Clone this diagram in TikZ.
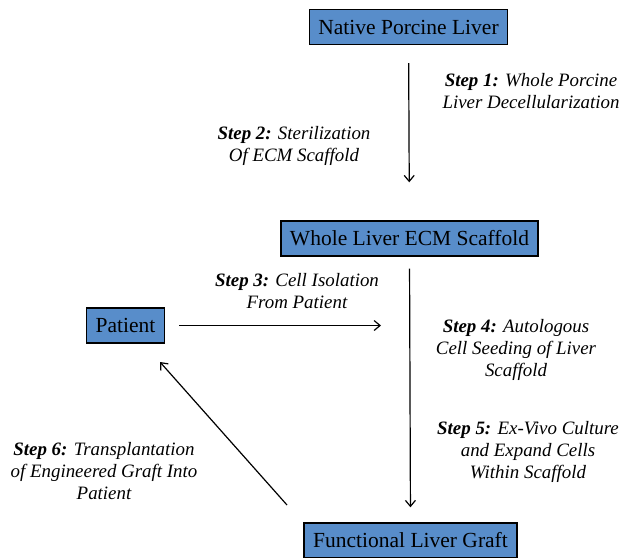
\documentclass[tikz,border=0pt]{standalone}
\usepackage{fontspec}
\setmainfont{Liberation Serif}
\usetikzlibrary{arrows.meta}
\definecolor{boxblue}{RGB}{88,141,202}
\tikzset{
  /tikz/.cd,
  stage/.style={draw=black,line width=1.4pt,fill=boxblue,font=\fontsize{21.5}{24}\selectfont,minimum height=35pt,inner xsep=9pt}
}

\begin{document}
\begin{tikzpicture}[x=1pt,y=-1pt,
                    flow/.style={-{Straight Barb[length=6pt,width=10pt,line width=1.2pt]},line width=1.2pt},
                    steplabel/.style={align=center,font=\fontsize{18.9}{22}\selectfont\itshape}]
      \useasboundingbox (0,0) rectangle (626,557);

      \node[stage] (native) at (408.5,27) {Native Porcine Liver};
      \node[stage] (scaffold) at (409.5,238.5) {Whole Liver ECM Scaffold};
      \node[stage] (patient) at (125.5,325.5) {Patient};
      \node[stage] (graft) at (410.5,540.5) {Functional Liver Graft};

      \coordinate (seed) at (381,325.5);
      \coordinate (graftcorner) at (287,505);
      \coordinate (patientcorner) at (160,362);

      \draw[flow,shorten <=18pt,shorten >=38pt] (native) -- (scaffold);
      \draw[flow,shorten <=14pt] (patient) -- (seed);
      \draw[flow,shorten <=12pt,shorten >=15pt] (scaffold.south) -- (graft.north);
      \draw[flow] (graftcorner) -- (patientcorner);

      \node[steplabel] (s1) at (531,91) {\textbf{Step 1:} Whole Porcine\\Liver Decellularization};
      \node[steplabel] (s2) at (294,146) {\textbf{Step 2:} Sterilization\\Of ECM Scaffold};
      \node[steplabel] (s3) at (297,291) {\textbf{Step 3:} Cell Isolation\\From Patient};
      \node[steplabel] (s4) at (516,350) {\textbf{Step 4:} Autologous\\Cell Seeding of Liver\\Scaffold};
      \node[steplabel] (s5) at (528,452) {\textbf{Step 5:} Ex-Vivo Culture\\and Expand Cells\\Within Scaffold};
      \node[steplabel] (s6) at (104,471) {\textbf{Step 6:} Transplantation\\of Engineered Graft Into\\Patient};
    \end{tikzpicture}
\end{document}
